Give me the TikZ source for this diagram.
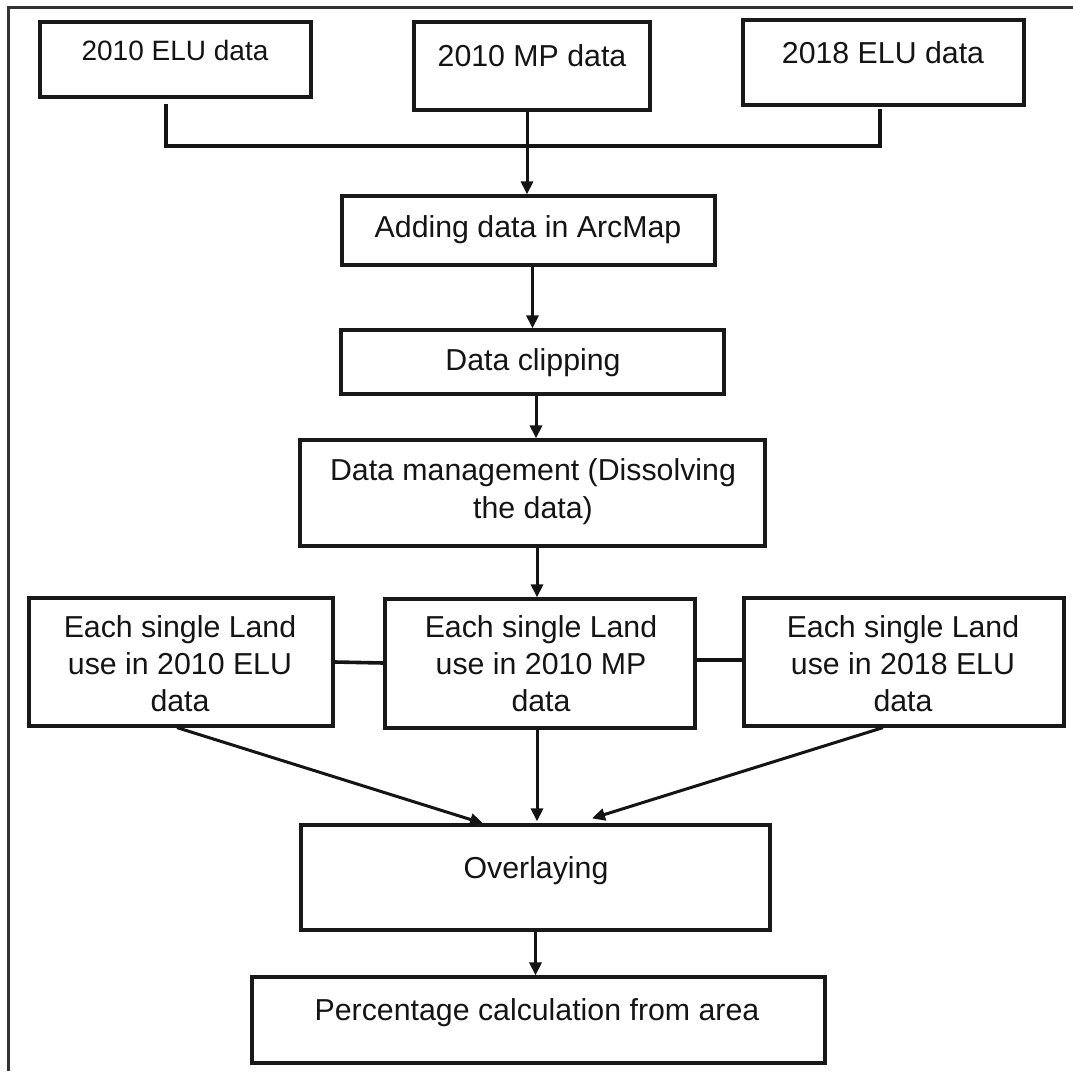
\documentclass[tikz,border=0pt]{standalone}
\usepackage{fontspec}
\setmainfont{Liberation Sans}
\usetikzlibrary{arrows.meta,calc}
\begin{document}
\begin{tikzpicture}[x=1pt,y=-1pt,
  box/.style={draw=black!90, line width=3.2pt, inner sep=0pt},
  txt/.style={text=black!92, font=\fontsize{30.3}{37}\selectfont, align=center, inner sep=0pt, anchor=base},
  conn/.style={draw=black!92, line width=3pt},
  arr/.style={conn, -{Triangle[length=13pt,width=12pt]}}]
\useasboundingbox (0,0) rectangle (1073,1071);
\draw[black!80, line width=3pt] (8,1071) -- (8,7) -- (1073,7);

% top row
\node[box, minimum width=271, minimum height=75] (b1) at (175.5,59.5) {};
\node[txt, font=\fontsize{28}{34}\selectfont] (t1) at (175,60) {2010 ELU data};
\node[box, minimum width=236, minimum height=88] (b2) at (532,66) {};
\node[txt] (t2) at (532,66) {2010 MP data};
\node[box, minimum width=281, minimum height=85] (b3) at (883.5,62.5) {};
\node[txt] (t3) at (883,63) {2018 ELU data};

% chain
\node[box, minimum width=373, minimum height=69] (add) at (528.5,230.5) {};
\node[txt] (tadd) at (528,237) {Adding data in ArcMap};
\node[box, minimum width=383, minimum height=64] (clip) at (532.5,362) {};
\node[txt] (tclip) at (533,370) {Data clipping};
\node[box, minimum width=465, minimum height=106] (mgmt) at (532.5,493) {};
\node[txt, font=\fontsize{30.3}{38}\selectfont] (tmgmt) at (533,518) {Data management (Dissolving\\the data)};

% land use row
\node[box, minimum width=304, minimum height=128] (L) at (181,662) {};
\node[txt] (tL) at (180,711) {Each single Land\\use in 2010 ELU\\data};
\node[box, minimum width=310, minimum height=129] (M) at (540,663.5) {};
\node[txt] (tM) at (541,711) {Each single Land\\use in 2010 MP\\data};
\node[box, minimum width=320, minimum height=128] (R) at (904,662) {};
\node[txt] (tR) at (903,711) {Each single Land\\use in 2018 ELU\\data};

% bottom
\node[box, minimum width=469, minimum height=105] (O) at (535.5,877.5) {};
\node[txt] (tO) at (536,878) {Overlaying};
\node[box, minimum width=573, minimum height=86] (P) at (538.5,1020) {};
\node[txt] (tP) at (537,1020) {Percentage calculation from area};

% connectors top
\coordinate (j) at (527,146);
\draw[conn, line width=3.6pt, shorten <=5pt] ($(b1.south)+(-9.5,0)$) |- (j);
\draw[conn, line width=3.6pt, shorten <=2pt] ($(b3.south)+(-3.5,0)$) |- (j);
\draw[arr] ($(b2.south)+(-5,0)$) -- ($(add.north)+(-1.5,0)$);

\draw[arr] (add.south -| clip.north) -- (clip.north);
\draw[arr] ($(clip.south)+(3.5,0)$) -- ($(mgmt.north)+(3.5,0)$);
\draw[arr] ($(mgmt.south)+(4.5,0)$) -- ($(M.north)+(-3,0)$);

\draw[conn, line width=3.6pt] (L.east) -- ($(M.west)+(0,-0.5)$);
\draw[conn, line width=3.6pt] ($(M.east)+(0,-3.5)$) -- ($(R.west)+(0,-2)$);

\draw[arr] ($(L.south)+(-4,0)$) -- ($(O.north)+(-52.5,0)$);
\draw[arr] ($(M.south)+(-3,0)$) -- ($(O.north)+(1.5,-2)$);
\draw[arr] ($(R.south)+(-21,0)$) -- ($(O.north)+(56.5,-5)$);
\draw[arr] (O.south) -- (O.south |- P.north);
\end{tikzpicture}
\end{document}
